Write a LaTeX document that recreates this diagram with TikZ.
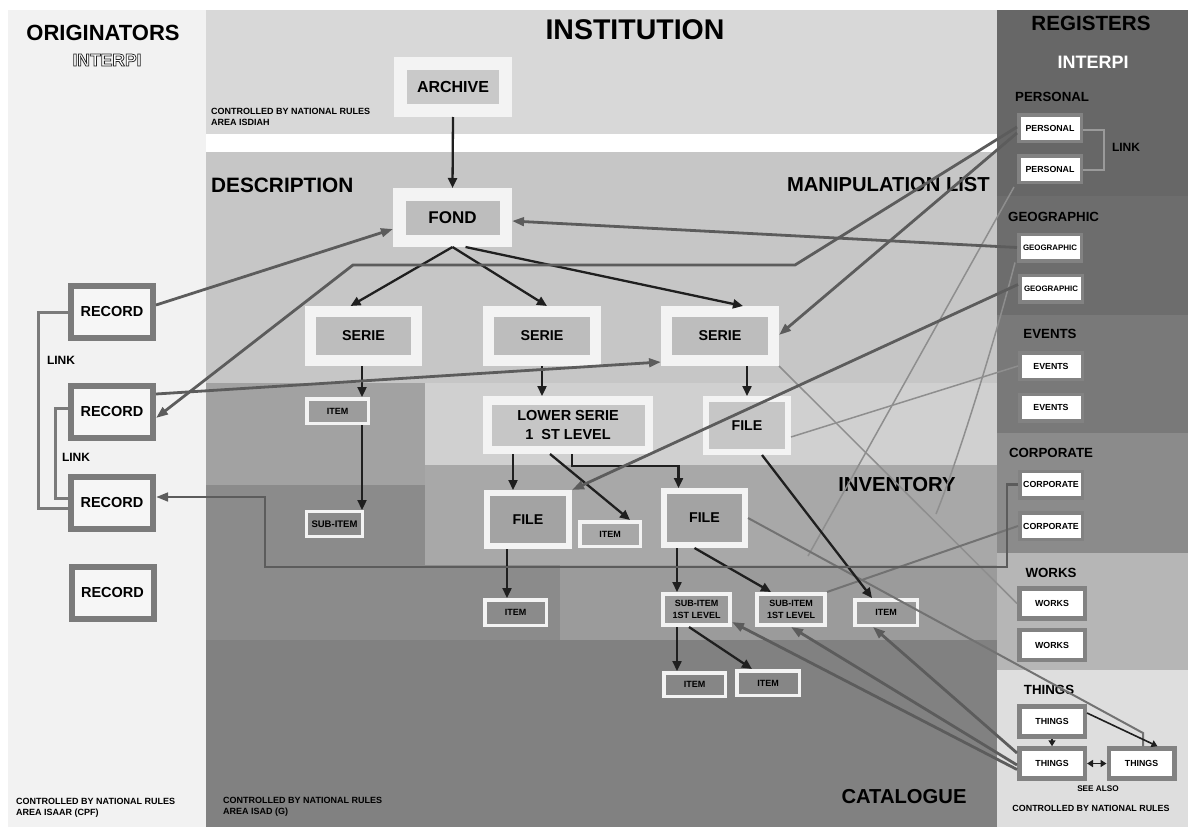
\documentclass[tikz,border=0pt]{standalone}
\usepackage{fontspec}
\setmainfont{Liberation Sans}
\usetikzlibrary{arrows.meta,calc}
\definecolor{cLeft}{HTML}{F2F2F2}
\definecolor{cInst}{HTML}{D8D8D8}
\definecolor{cDesc}{HTML}{C6C6C6}
\definecolor{cLight}{HTML}{D0D0D0}
\definecolor{cA}{HTML}{A2A2A2}
\definecolor{cInv}{HTML}{A8A8A8}
\definecolor{cB}{HTML}{8B8B8B}
\definecolor{cC}{HTML}{9B9B9B}
\definecolor{cCat}{HTML}{818181}
\definecolor{cPers}{HTML}{676767}
\definecolor{cGeo}{HTML}{6D6D6D}
\definecolor{cEv}{HTML}{797979}
\definecolor{cCorp}{HTML}{8B8B8B}
\definecolor{cWorks}{HTML}{B6B6B6}
\definecolor{cThings}{HTML}{DEDEDE}
\definecolor{cFrame}{HTML}{F3F3F3}
\definecolor{cArchIn}{HTML}{C9C9C9}
\definecolor{cIn}{HTML}{BDBDBD}
\definecolor{cLow}{HTML}{C6C6C6}
\definecolor{cFileIn}{HTML}{A3A3A3}
\definecolor{cItemA}{HTML}{9C9C9C}
\definecolor{cSubA}{HTML}{8A8A8A}
\definecolor{cSubIn}{HTML}{9A9A9A}
\definecolor{cItemB}{HTML}{868686}
\definecolor{cRec}{HTML}{7B7B7B}
\definecolor{cRecIn}{HTML}{F6F6F6}
\definecolor{cRegB}{HTML}{828282}
\definecolor{cConn}{HTML}{5C5C5C}
\definecolor{cThin}{HTML}{8E8E8E}
\definecolor{cThinD}{HTML}{727272}
\definecolor{cLink}{HTML}{9A9A9A}
\newcommand\myfs[2]{\fontsize{#1}{#2}\selectfont\bfseries}
\newcommand\outlined[1]{{\color{white}\special{pdf:literal 2 Tr 0.75 w 0.15 G}#1\special{pdf:literal 0 Tr 1 w 0 G}}}
\begin{document}
\begin{tikzpicture}[x=1pt,y=-1pt,
  fr/.style n args={4}{draw=cFrame, line width=#3pt, fill=#4, minimum width=#1-#3, minimum height=#2-#3, inner sep=0pt, align=center},
  rec/.style={draw=cRec, line width=6pt, fill=cRecIn, minimum width=82, minimum height=52, inner sep=0pt, font=\myfs{14.5}{17}},
  reg/.style={draw=cRegB, line width=3.5pt, fill=white, minimum width=62.5, minimum height=26.5, inner sep=0pt, font=\myfs{8.8}{10}},
  regL/.style={draw=cRegB, line width=4.5pt, fill=white, minimum width=65.5, minimum height=30, inner sep=0pt, font=\myfs{8.8}{10}},
  txt/.style={inner sep=0pt, align=left},
  blk/.style={draw=black!88, line width=2.3pt, -{Triangle[length=10pt,width=9pt]}},
  blks/.style={draw=black!88, line width=1.6pt, -{Triangle[length=6pt,width=7pt]}},
  gry/.style={draw=cConn, line width=2.8pt, -{Triangle[length=12pt,width=8.5pt]}},
  thn/.style={draw=cThin, line width=1.5pt},
  thnd/.style={draw=cThinD, line width=2pt},
  lnk/.style={draw=cRec, line width=3pt},
  plnk/.style={draw=cLink, line width=2pt}]
\useasboundingbox (0,0) rectangle (1192,827);
\fill[white] (0,0) rectangle (1192,827);
% ---------- background areas
\fill[cLeft] (8,10) rectangle (206,827);
\fill[cInst] (206,10) rectangle (997,134);
\fill[cDesc] (206,152) rectangle (997,827);
\fill[cLight] (425,383) rectangle (997,465);
\fill[cA] (206,383) rectangle (425,485);
\fill[cInv] (425,465) rectangle (997,565);
\fill[cB] (206,485) rectangle (425,640);
\fill[cB] (425,565) rectangle (560,640);
\fill[cC] (560,565) rectangle (997,640);
\fill[cCat] (206,640) rectangle (997,827);
\fill[cPers] (997,10) rectangle (1188,196);
\fill[cGeo] (997,196) rectangle (1188,315);
\fill[cEv] (997,315) rectangle (1188,433);
\fill[cCorp] (997,433) rectangle (1188,553);
\fill[cWorks] (997,553) rectangle (1188,670);
\fill[cThings] (997,670) rectangle (1188,827);
% ---------- titles and notes
\node[txt, font=\myfs{28.5}{30}] (tInst) at (635,30) {INSTITUTION};
\node[txt, font=\myfs{22}{24}] (tOrig) at (103,33) {ORIGINATORS};
\node[txt, font=\myfs{17.5}{20}] (tInterL) at (107,60) {\outlined{INTERPI}};
\node[txt, font=\myfs{20.8}{22}, anchor=west] (tDesc) at (211,185) {DESCRIPTION};
\node[txt, font=\myfs{20.2}{22}, anchor=east] (tMan) at (990,185) {MANIPULATION LIST};
\node[txt, font=\myfs{20.3}{22}] (tInv) at (897,485) {INVENTORY};
\node[txt, font=\myfs{20.2}{22}] (tCat) at (904,797) {CATALOGUE};
\node[txt, font=\myfs{20.6}{22}] (tReg) at (1091,23) {REGISTERS};
\node[txt, font=\myfs{18}{20}, text=white] (tInterR) at (1093,62) {INTERPI};
\node[txt, font=\myfs{13.3}{15}, anchor=west] (sPers) at (1015,97) {PERSONAL};
\node[txt, font=\myfs{13.3}{15}, anchor=west] (sGeo) at (1008,217) {GEOGRAPHIC};
\node[txt, font=\myfs{13.3}{15}] (sEv) at (1050,334) {EVENTS};
\node[txt, font=\myfs{13.3}{15}] (sCorp) at (1051,453) {CORPORATE};
\node[txt, font=\myfs{13.3}{15}] (sWorks) at (1051,573) {WORKS};
\node[txt, font=\myfs{13.3}{15}] (sThings) at (1049,690) {THINGS};
\node[txt, font=\myfs{9}{11}, anchor=west] (ctlA) at (211,117) {CONTROLLED BY NATIONAL RULES\\AREA ISDIAH};
\node[txt, font=\myfs{9}{11}, anchor=west] (ctlB) at (16,808) {CONTROLLED BY NATIONAL RULES\\AREA ISAAR (CPF)};
\node[txt, font=\myfs{9}{11}, anchor=west] (ctlC) at (223,806.5) {CONTROLLED BY NATIONAL RULES\\AREA ISAD (G)};
\node[txt, font=\myfs{8.9}{10}] (ctlD) at (1091,808) {CONTROLLED BY NATIONAL RULES};
\node[txt, font=\myfs{8.2}{10}] (seeAlso) at (1098,789) {SEE ALSO};
\node[txt, font=\myfs{12}{14}] (link1) at (61,360) {LINK};
\node[txt, font=\myfs{12}{14}] (link2) at (76,457) {LINK};
\node[txt, font=\myfs{12}{14}] (link3) at (1126,147) {LINK};
% ---------- description boxes
\node[fr={118}{60}{13}{cArchIn}, font=\myfs{16}{19}] (archive) at (453,87) {ARCHIVE};
\node[fr={119}{59}{12.5}{cIn}, font=\myfs{17}{20}] (fond) at (452.5,217.5) {FOND};
\node[fr={117}{60}{11}{cIn}, font=\myfs{14.3}{17}] (serie1) at (363.5,336) {SERIE};
\node[fr={118}{60}{11}{cIn}, font=\myfs{14.3}{17}] (serie2) at (542,336) {SERIE};
\node[fr={118}{60}{11}{cIn}, font=\myfs{14.3}{17}] (serie3) at (720,336) {SERIE};
\node[fr={170}{58}{8.5}{cLow}, font=\myfs{14.5}{19}] (lower) at (568,425) {LOWER SERIE\\1\ \ ST LEVEL};
\node[fr={88}{59}{6}{cDesc}, font=\myfs{14.2}{17}] (fileR) at (747,425.5) {FILE};
\node[fr={88}{59}{6}{cFileIn}, font=\myfs{14.2}{17}] (fileL) at (528,519.5) {FILE};
\node[fr={87}{60}{6}{cFileIn}, font=\myfs{14.2}{17}] (fileM) at (704.5,518) {FILE};
\node[fr={64}{28}{3.5}{cInv}, font=\myfs{9}{11}] (itemS) at (610,534) {ITEM};
\node[fr={65}{28}{3.5}{cItemA}, font=\myfs{9}{11}] (item1) at (337.5,411) {ITEM};
\node[fr={59}{28}{3}{cSubA}, font=\myfs{9.5}{11}] (sub1) at (334.5,524) {SUB-ITEM};
\node[fr={65}{29}{3.5}{cB}, font=\myfs{9}{11}] (item2) at (515.5,612.5) {ITEM};
\node[fr={71}{35}{4}{cSubIn}, font=\myfs{9}{11.5}] (subA) at (696.5,609.5) {SUB-ITEM\\1ST LEVEL};
\node[fr={72}{35}{4}{cSubIn}, font=\myfs{9}{11.5}] (subB) at (791,609.5) {SUB-ITEM\\1ST LEVEL};
\node[fr={66}{29}{3.5}{cSubIn}, font=\myfs{9}{11}] (itemR) at (886,612.5) {ITEM};
\node[fr={65}{27}{3.5}{cItemB}, font=\myfs{9}{11}] (itemBa) at (694.5,684.5) {ITEM};
\node[fr={66}{28}{3.5}{cItemB}, font=\myfs{9}{11}] (itemBb) at (768,683) {ITEM};
% ---------- records
\node[rec] (rec1) at (112,312) {RECORD};
\node[rec] (rec2) at (112,412) {RECORD};
\node[rec] (rec3) at (112,503) {RECORD};
\node[rec] (rec4) at (112.5,592.5) {RECORD};
% ---------- register entries
\node[reg] (pers1) at (1050,128) {PERSONAL};
\node[reg] (pers2) at (1050,169) {PERSONAL};
\node[reg, font=\myfs{7.9}{10}] (geo1) at (1050,247.5) {GEOGRAPHIC};
\node[reg, font=\myfs{7.9}{10}] (geo2) at (1051,288.5) {GEOGRAPHIC};
\node[reg] (ev1) at (1051,366) {EVENTS};
\node[reg] (ev2) at (1051,407.5) {EVENTS};
\node[reg] (corp1) at (1051,484.5) {CORPORATE};
\node[reg] (corp2) at (1051,526) {CORPORATE};
\node[regL] (works1) at (1052,603.5) {WORKS};
\node[regL] (works2) at (1052,645) {WORKS};
\node[regL] (things1) at (1052,721.5) {THINGS};
\node[regL] (things2) at (1052,763.5) {THINGS};
\node[regL] (things3) at (1141.5,763.5) {THINGS};
% ---------- link lines
\coordinate (lkA) at (38,0);
\coordinate (lkB) at (55,0);
\coordinate (r2l) at ([yshift=4pt]rec2.west);
\coordinate (r3la) at ([yshift=-5pt]rec3.west);
\coordinate (r3lb) at ([yshift=5pt]rec3.west);
\draw[lnk] (rec1.west) -- (rec1.west -| lkA) -- (r3la -| lkA) -- (r3la);
\draw[lnk] (r2l) -- (r2l -| lkB) -- (r3lb -| lkB) -- (r3lb);
\draw[plnk] ([yshift=-2pt]pers1.east) -- ++(21,0) |- ([yshift=-1pt]pers2.east);
% ---------- thin lines
\coordinate (cEnd) at (808,556);
\coordinate (dEnd) at (936,514);
\coordinate (hB) at (1143,733);
\draw[thn] ([xshift=-3pt,yshift=-3pt]pers2.south west) -- (cEnd);
\draw[thn] ([xshift=-2pt]geo1.south west) .. controls (995,340) and (958,460) .. (dEnd);
\draw[thn] (ev1.west) -- ([yshift=-11.5pt]fileR.east);
\draw[thn] (serie3.south east) -- (works1.west);
\draw[thnd] (fileM.east) -- (hB) -- (hB |- things3.north);
\draw[thnd] (corp2.west) -- (subB.north east);
% ---------- black tree arrows
\draw[blk] (archive.south) -- (fond.north);
\draw[blk] (fond.south) -- ([xshift=-13pt]serie1.north);
\draw[blk] (fond.south) -- ([xshift=5pt]serie2.north);
\draw[blk] ([xshift=13pt]fond.south) -- ([xshift=23pt]serie3.north);
\draw[blk] ([xshift=-1.5pt]serie1.south) -- ([xshift=-1.5pt]serie1.south |- item1.north);
\draw[blk] ([xshift=24.5pt]item1.south) -- ([xshift=24.5pt]item1.south |- sub1.north);
\draw[blk] (serie2.south) -- (serie2.south |- lower.north);
\draw[blk] (fileR.north |- serie3.south) -- (fileR.north);
\draw[blk] ([xshift=-15pt]fileL.north |- lower.south) -- ([xshift=-15pt]fileL.north);
\draw[blk] ([xshift=-18pt]lower.south) -- ([xshift=20pt]itemS.north);
\draw[blk] ([xshift=4pt]lower.south) -- ++(0,12) -| ([xshift=-26pt]fileM.north);
\draw[blk] ([xshift=-8.5pt]item2.north |- fileL.south) -- ([xshift=-8.5pt]item2.north);
\draw[blk] ([xshift=-19.5pt]subA.north |- fileM.south) -- ([xshift=-19.5pt]subA.north);
\draw[blk] ([xshift=-10pt]fileM.south) -- ([xshift=-20pt]subB.north);
\draw[blk] ([xshift=15pt]fileR.south) -- ([xshift=-14pt]itemR.north);
\draw[blk] ([xshift=-19.5pt]subA.south) -- ([xshift=-19.5pt]subA.south |- itemBa.north);
\draw[blk] ([xshift=-7.5pt]subA.south) -- ([xshift=-16pt]itemBb.north);
\draw[blks] (things1.south) -- (things2.north);
\draw[blks] ([yshift=8.5pt]things1.east) -- ([xshift=16pt]things3.north);
\draw[blks, {Triangle[length=6pt,width=7pt]}-{Triangle[length=6pt,width=7pt]}] (things2.east) -- (things3.west);
% ---------- grey cross links
\coordinate (g3a) at (795,265);
\coordinate (g3b) at (353,265);
\coordinate (cb1) at (1007,567);
\coordinate (cb2) at (265,567);
\coordinate (cb3) at (265,497);
\draw[gry] ([yshift=7pt]rec1.east) -- ([yshift=-11.5pt]fond.west);
\draw[gry] (geo1.west) -- ([yshift=-3.5pt]fond.east);
\draw[gry] ([yshift=1pt]pers1.west) -- (g3a) -- (g3b) -- ([yshift=-6pt]rec2.east);
\draw[gry] ([yshift=-5pt]pers1.west) -- ([yshift=1pt]serie3.east);
\draw[gry] ([yshift=4pt]geo2.west) -- (fileL.north east);
\draw[gry] ([yshift=18pt]rec2.east) -- ([yshift=-26pt]serie3.west);
\draw[gry] (corp1.west) -- (corp1.west -| cb1) -- (cb1) -- (cb2) -- (cb3) -- ([yshift=6pt]rec3.east);
\draw[gry] ([yshift=-6pt]things2.west) -- ([yshift=-12.5pt]subA.east);
\draw[gry] ([yshift=-1.5pt]things2.west) -- (subB.south);
\draw[gry] ([yshift=10.5pt]things2.west) -- ([xshift=-13pt]itemR.south);
\end{tikzpicture}
\end{document}
